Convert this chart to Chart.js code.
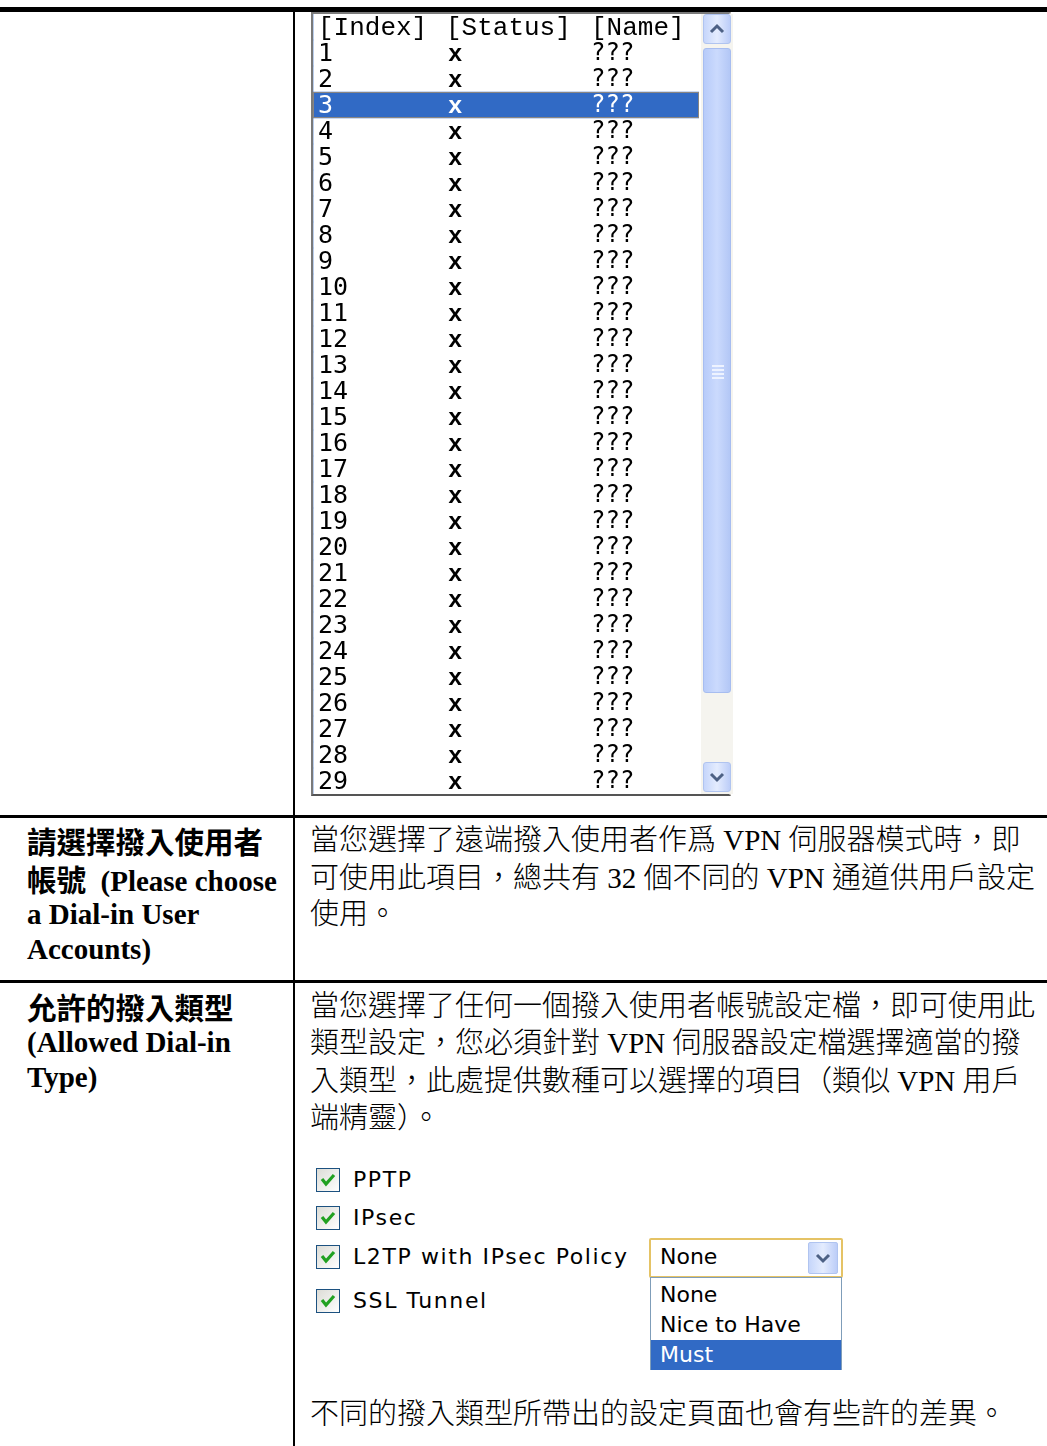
<!DOCTYPE html>
<html>
<head>
<meta charset="utf-8">
<script src="https://cdn.jsdelivr.net/npm/chart.js@4.4.1/dist/chart.umd.min.js"></script>
<style>
  html, body { margin: 0; padding: 0; background: #fff; }
  body { width: 1047px; height: 1446px; position: relative; overflow: hidden; }
  .rule { position: absolute; background: #000; }
  .t { position: absolute; white-space: nowrap; line-height: 36px; color: #000; }
  .body { font-family: "Liberation Serif", "Noto Sans CJK TC", serif; font-size: 29px; font-weight: 300; }
  .head { font-family: "Liberation Serif", "Noto Sans CJK TC", serif; font-size: 29px; font-weight: bold; }
  .head .cjk { font-family: "Noto Sans CJK TC", sans-serif; font-size: 29.5px; }
  .list { position: absolute; left: 311px; top: 12px; width: 416px; height: 780px;
          border: 2px solid #7a7a7a; border-right-color: #d4d0c8; border-bottom-color: #555; background: #fff; }
  #listCanvas { position: absolute; left: 0; top: 0; }
  .sb { position: absolute; left: 388px; top: 0; width: 32px; height: 780px; background: #f5f4ef; }
  .btn { position: absolute; left: 2px; width: 28px; height: 30px; border-radius: 3px;
         background: linear-gradient(90deg, #c6d6fb, #e4ecfe 50%, #bccdf8); border: 1px solid #b0c4f0; box-sizing: border-box; }
  .thumb { position: absolute; left: 2px; top: 34px; width: 28px; height: 645px; border-radius: 3px;
           background: linear-gradient(90deg, #b7cbf9, #cbdafd 50%, #b3c7f6); border: 1px solid #a7bdf0; box-sizing: border-box; }
  .grip { position: absolute; left: 8px; width: 12px; height: 2px; background: #eef3ff; }
  .cb { position: absolute; left: 316px; width: 24px; height: 24px; box-sizing: border-box;
        border: 1px solid #1c5180; background: linear-gradient(135deg, #dcdcd6, #fff); }
  .opt { font-family: "DejaVu Sans", sans-serif; font-size: 22px; line-height: 30px; }
  .cbl { letter-spacing: 1.6px; }
  .sel { position: absolute; left: 649px; top: 1238px; width: 194px; height: 40px; box-sizing: border-box;
         border: 2px solid #e5c365; border-radius: 2px; background: #fff; }
  .drop { position: absolute; left: 650px; top: 1277px; width: 192px; height: 93px; box-sizing: border-box;
          border: 1px solid #7f9db9; background: #fff; }
</style>
</head>
<body>

<div class="rule" style="left:0;top:7px;width:1047px;height:5px"></div>
<div class="rule" style="left:293px;top:10px;width:2px;height:1436px"></div>
<div class="rule" style="left:0;top:815px;width:1047px;height:3px"></div>
<div class="rule" style="left:0;top:980px;width:1047px;height:3px"></div>

<div class="list">
  <canvas id="listCanvas" width="386" height="780"></canvas>
  <div class="sb">
    <div class="btn" style="top:0">
      <svg width="26" height="28" viewBox="0 0 26 28"><path d="M7 17 L13 11 L19 17" stroke="#4d6185" stroke-width="3" fill="none"/></svg>
    </div>
    <div class="thumb">
      <div class="grip" style="top:316px"></div>
      <div class="grip" style="top:320px"></div>
      <div class="grip" style="top:324px"></div>
      <div class="grip" style="top:328px"></div>
    </div>
    <div class="btn" style="top:748px">
      <svg width="26" height="28" viewBox="0 0 26 28"><path d="M7 11 L13 17 L19 11" stroke="#4d6185" stroke-width="3" fill="none"/></svg>
    </div>
  </div>
</div>

<!-- section 1 -->
<div class="t head" style="left:27px;top:822px"><span class="cjk">請選擇撥入使用者</span></div>
<div class="t head" style="left:27px;top:860px"><span class="cjk">帳號</span>&nbsp; (Please choose</div>
<div class="t head" style="left:27px;top:896px">a Dial-in User</div>
<div class="t head" style="left:27px;top:931px">Accounts)</div>

<div class="t body" style="left:310px;top:822px">當您選擇了遠端撥入使用者作爲 VPN 伺服器模式時，即</div>
<div class="t body" style="left:310px;top:860px">可使用此項目，總共有 32 個不同的 VPN 通道供用戶設定</div>
<div class="t body" style="left:310px;top:896px">使用。</div>

<!-- section 2 -->
<div class="t head" style="left:27px;top:988px"><span class="cjk">允許的撥入類型</span></div>
<div class="t head" style="left:27px;top:1024px">(Allowed Dial-in</div>
<div class="t head" style="left:27px;top:1059px">Type)</div>

<div class="t body" style="left:310px;top:988px">當您選擇了任何一個撥入使用者帳號設定檔，即可使用此</div>
<div class="t body" style="left:310px;top:1025px">類型設定，您必須針對 VPN 伺服器設定檔選擇適當的撥</div>
<div class="t body" style="left:310px;top:1063px">入類型，此處提供數種可以選擇的項目（類似 VPN 用戶</div>
<div class="t body" style="left:310px;top:1100px">端精靈）。</div>

<div id="checks"></div>

<div class="sel">
  <div class="t opt" style="left:9px;top:2px">None</div>
  <div style="position:absolute;left:157px;top:2px;width:30px;height:32px;border-radius:2px;background:linear-gradient(90deg,#c6d6fb,#e4ecfe 50%,#bccdf8);border:1px solid #b0c4f0;box-sizing:border-box">
    <svg width="28" height="30" viewBox="0 0 28 30"><path d="M8 12 L14 18 L20 12" stroke="#4d6185" stroke-width="3" fill="none"/></svg>
  </div>
</div>
<div class="drop" id="drop"></div>

<div class="t body" style="left:310px;top:1396px">不同的撥入類型所帶出的設定頁面也會有些許的差異。</div>

<script>
// listbox content
const headerLabels = ['[Index]', '[Status]', '[Name]'];
const indexLabels = ['1','2','3','4','5','6','7','8','9','10','11','12','13','14','15',
  '16','17','18','19','20','21','22','23','24','25','26','27','28','29'];
const statusValues = ['x','x','x','x','x','x','x','x','x','x','x','x','x','x','x',
  'x','x','x','x','x','x','x','x','x','x','x','x','x','x'];
const nameValues = ['???','???','???','???','???','???','???','???','???','???','???','???','???','???','???',
  '???','???','???','???','???','???','???','???','???','???','???','???','???','???'];
const selectedIndex = '3';

// form options
const checkOptions = ['PPTP', 'IPsec', 'L2TP with IPsec Policy', 'SSL Tunnel'];
const policyOptions = ['None', 'Nice to Have', 'Must'];
const policySelected = 'Must';

const rowLabels = ['header'].concat(indexLabels);
const selection = rowLabels.map(l => (l === selectedIndex ? 1 : 0));
const colX = [5, 133, 278];

const listText = {
  id: 'listText',
  afterDatasetsDraw(chart) {
    const ctx = chart.ctx;
    const y = chart.scales.y;
    const left = chart.chartArea.left;
    const bar = chart.getDatasetMeta(0).data[rowLabels.indexOf(selectedIndex)];
    ctx.save();
    if (bar) {
      ctx.strokeStyle = '#e0a040';
      ctx.setLineDash([1, 1]);
      ctx.lineWidth = 1;
      const h = bar.height;
      ctx.strokeRect(left + 0.5, bar.y - h / 2 + 0.5, bar.x - left - 1, h - 1);
    }
    ctx.textBaseline = 'middle';
    ctx.font = '26px "Liberation Mono", monospace';
    ctx.fillStyle = '#000';
    headerLabels.forEach((h, c) => ctx.fillText(h, left + colX[c], y.getPixelForValue(0) + 1));
    indexLabels.forEach((lab, i) => {
      const py = y.getPixelForValue(i + 1) + 1;
      ctx.fillStyle = selection[i + 1] ? '#fff' : '#000';
      ctx.font = '25px "DejaVu Sans Mono", monospace';
      ctx.fillText(lab, left + colX[0], py);
      ctx.font = 'bold 24px "Liberation Mono", monospace';
      ctx.fillText(statusValues[i], left + colX[1] + 2, py + 1);
      ctx.font = '24px "DejaVu Sans Mono", monospace';
      ctx.fillText(nameValues[i], left + colX[2], py);
    });
    ctx.restore();
  }
};

new Chart(document.getElementById('listCanvas'), {
  type: 'bar',
  data: {
    labels: rowLabels,
    datasets: [{
      data: selection,
      backgroundColor: '#316ac5',
      borderWidth: 0,
      barPercentage: 1,
      categoryPercentage: 1
    }]
  },
  options: {
    indexAxis: 'y',
    responsive: false,
    animation: false,
    layout: { padding: 0 },
    plugins: { legend: { display: false }, tooltip: { enabled: false } },
    scales: {
      x: { display: false, min: 0, max: 1 },
      y: { display: false }
    }
  },
  plugins: [listText]
});

// checkboxes
const checkTops = [1168, 1206, 1245, 1289];
const checks = document.getElementById('checks');
checkOptions.forEach((name, i) => {
  const top = checkTops[i];
  checks.insertAdjacentHTML('beforeend',
    '<div class="cb" style="top:' + top + 'px"><svg width="22" height="22" viewBox="0 0 22 22">' +
    '<path d="M5 10 L9 15 L17 6" stroke="#21a121" stroke-width="3.2" fill="none"/></svg></div>' +
    '<div class="t opt cbl" style="left:353px;top:' + (top - 3) + 'px">' + name + '</div>');
});

// dropdown list
const drop = document.getElementById('drop');
policyOptions.forEach((name, i) => {
  const sel = name === policySelected;
  drop.insertAdjacentHTML('beforeend',
    '<div class="opt" style="position:absolute;left:0;top:' + (2 + i * 30) + 'px;width:190px;height:30px;padding-left:9px;box-sizing:border-box;' +
    (sel ? 'background:#316ac5;color:#fff;' : 'color:#000;') + '">' + name + '</div>');
});
</script>
</body>
</html>
